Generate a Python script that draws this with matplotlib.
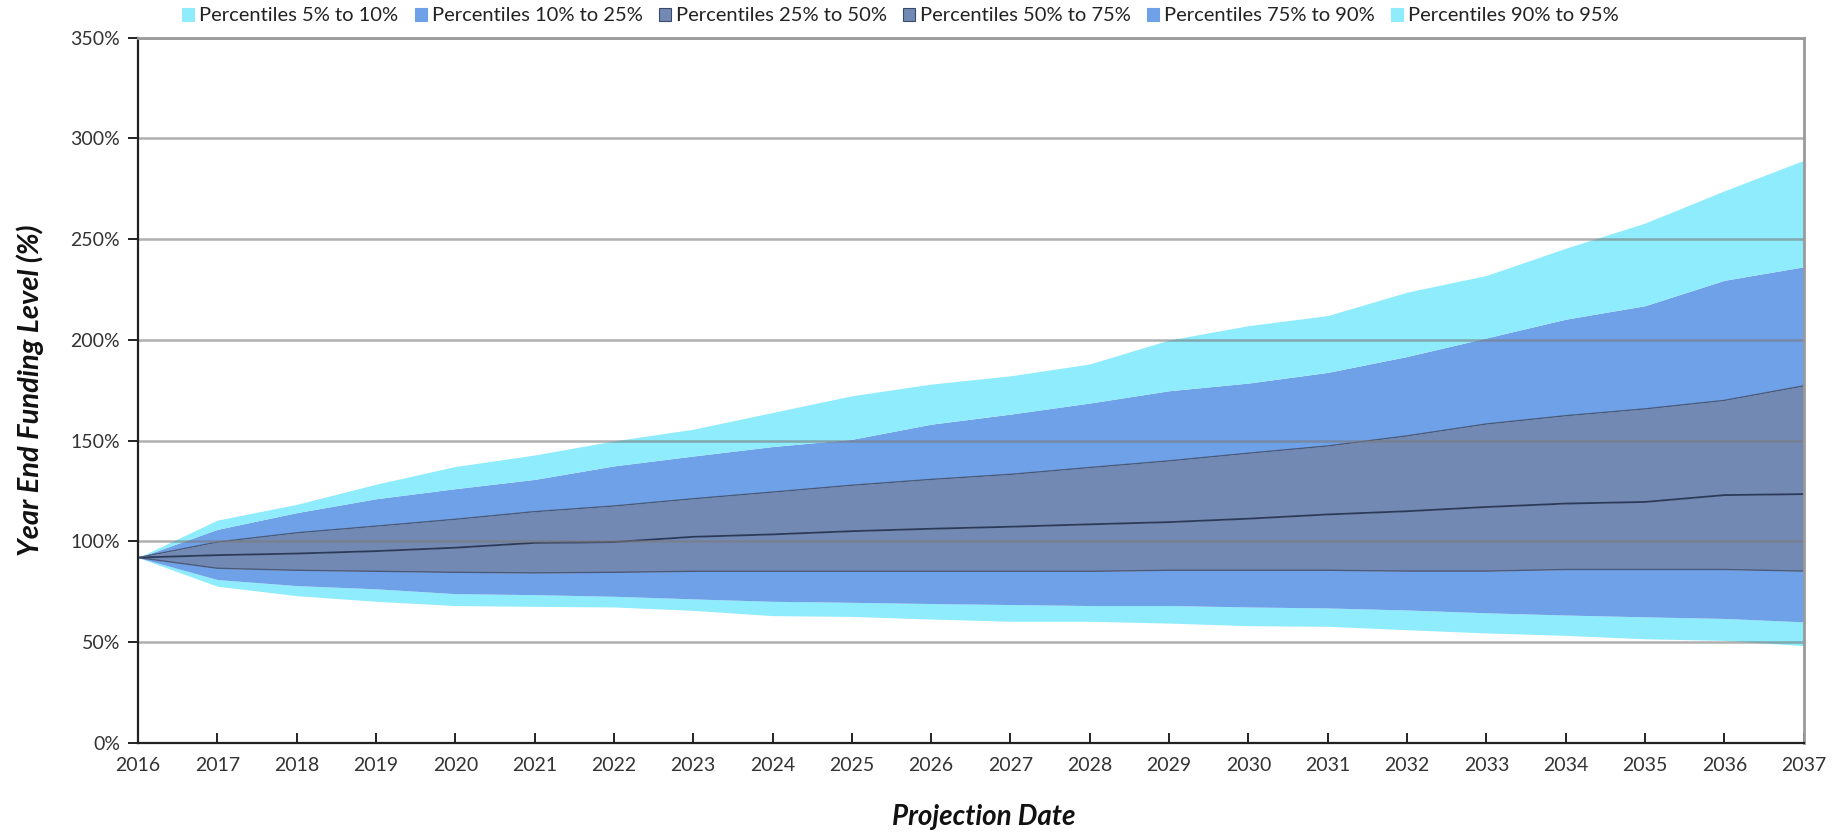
import matplotlib
matplotlib.use("Agg")
import matplotlib.pyplot as plt
from matplotlib.patches import Patch
from matplotlib.ticker import FuncFormatter, MultipleLocator

# Projection years
years = list(range(2016, 2038))

# Funding level percentiles (% of liabilities)
p5 = [92, 77.8, 73.1, 70.3, 68.2, 67.8, 67.5, 65.8, 63.2, 62.8, 61.5,
      60.4, 60.4, 59.5, 58.2, 57.9, 56.2, 54.6, 53.4, 51.7, 50.9, 48.3]
p10 = [92, 81.1, 78.1, 76.5, 74.1, 73.6, 72.8, 71.5, 70.3, 69.8, 69.2,
       68.7, 68.2, 68.2, 67.5, 67.0, 66.0, 64.6, 63.5, 62.6, 61.8, 60.1]
p25 = [92, 86.7, 85.7, 85.2, 84.7, 84.4, 84.7, 85.2, 85.2, 85.2, 85.2,
       85.2, 85.2, 85.7, 85.7, 85.7, 85.3, 85.3, 86.1, 86.1, 86.1, 85.3]
p50 = [92, 93.2, 94.0, 95.2, 96.9, 99.3, 99.7, 102.3, 103.5, 105.1, 106.3,
       107.3, 108.5, 109.6, 111.3, 113.4, 115.0, 117.1, 118.8, 119.6, 123.0, 123.5]
p75 = [92, 99.7, 104.3, 107.6, 111.0, 114.8, 117.6, 121.2, 124.5, 127.9, 130.8,
       133.3, 136.7, 140.0, 143.8, 147.4, 152.4, 158.3, 162.4, 165.8, 170.0, 177.2]
p90 = [92, 106.0, 114.3, 121.2, 126.2, 130.8, 137.5, 142.4, 147.1, 150.7, 158.2,
       163.2, 168.7, 174.8, 178.6, 183.9, 191.8, 201.0, 210.3, 217.0, 229.6, 236.3]
p95 = [92, 110.6, 118.4, 128.4, 137.2, 142.9, 149.9, 155.7, 164.0, 172.3, 178.1,
       182.2, 188.1, 200.0, 207.1, 212.1, 223.7, 232.0, 245.5, 258.0, 274.0, 289.1]

band_labels = ["Percentiles 5% to 10%", "Percentiles 10% to 25%",
               "Percentiles 25% to 50%", "Percentiles 50% to 75%",
               "Percentiles 75% to 90%", "Percentiles 90% to 95%"]

CYAN = "#8EECFC"
BLUE = "#6FA1E9"
SLATE = "#7289B3"
band_colors = [CYAN, BLUE, SLATE, SLATE, BLUE, CYAN]
edge_dark = "#3A4A6A"

plt.rcParams["font.family"] = ["Lato", "DejaVu Sans"]

fig = plt.figure(figsize=(18.38, 8.32), dpi=100)
ax = fig.add_axes([0.0751, 0.107, 0.9062, 0.8477])

levels = [p5, p10, p25, p50, p75, p90, p95]
for i in range(6):
    ax.fill_between(years, levels[i], levels[i + 1], color=band_colors[i],
                    linewidth=0, zorder=1)

# Outlines of the central bands
for series, lw, col in [(p25, 1.0, "#4A5A7A"), (p50, 1.3, "#2B3A58"), (p75, 1.0, "#4A5A7A")]:
    ax.plot(years, series, color=col, linewidth=lw, zorder=2)

ax.set_xlim(2016, 2037)
ax.set_ylim(0, 350)
ax.set_xticks(years)
ax.yaxis.set_major_locator(MultipleLocator(50))
ax.yaxis.set_major_formatter(FuncFormatter(lambda v, _: f"{v:.0f}%"))

# Horizontal gridlines drawn over the bands
for v in range(50, 351, 50):
    ax.axhline(v, color="#7A7A7A", alpha=0.6, linewidth=1.8, zorder=3)

for side in ("left", "bottom"):
    ax.spines[side].set_color("#222222")
    ax.spines[side].set_linewidth(1.6)
    ax.spines[side].set_zorder(5)
for side in ("top", "right"):
    ax.spines[side].set_color("#9A9A9A")
    ax.spines[side].set_linewidth(2.0)
    ax.spines[side].set_zorder(5)

ax.tick_params(axis="y", direction="out", length=7, width=1.4, color="#222222",
               labelsize=14, labelcolor="#333333", pad=6)
ax.tick_params(axis="x", direction="in", length=7, width=1.4, color="#222222",
               labelsize=14, labelcolor="#333333", pad=10)

ax.set_ylabel("Year End Funding Level (%)", fontsize=21, fontweight="bold",
              fontstyle="italic", color="#111111", va="center")
ax.yaxis.set_label_coords(-0.065, 0.5)
ax.set_xlabel("Projection Date", fontsize=20, fontweight="bold",
              fontstyle="italic", color="#111111", va="center")
ax.xaxis.set_label_coords(0.508, -0.105)

handles = [Patch(facecolor=c, edgecolor=(edge_dark if c == SLATE else c), linewidth=0.8)
           for c in band_colors]
fig.legend(handles, band_labels, loc="center", bbox_to_anchor=(0.49, 0.981),
           ncol=6, frameon=False, fontsize=14.5, handlelength=0.6, handleheight=0.6,
           handletextpad=0.25, columnspacing=0.8, labelcolor="#222222")

fig.savefig("out.png", dpi=100)
